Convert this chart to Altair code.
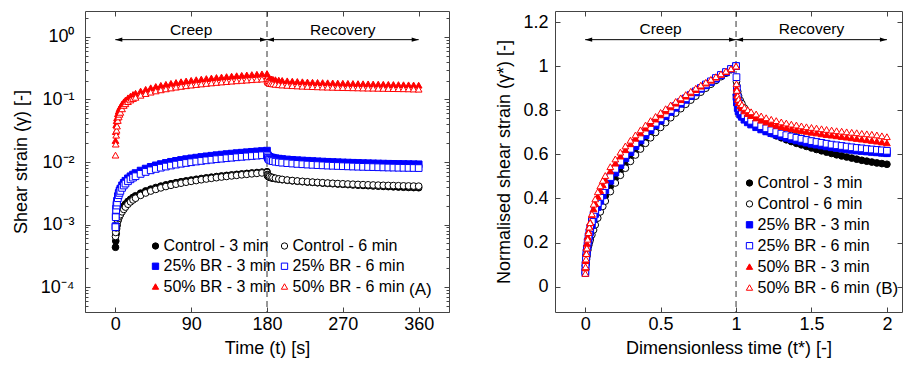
import altair as alt
import pandas as pd

FONT = "Liberation Sans"

SERIES = ["Control - 3 min", "Control - 6 min", "25% BR - 3 min",
          "25% BR - 6 min", "50% BR - 3 min", "50% BR - 6 min"]
SHAPES = ["circle", "circle", "square", "square", "triangle-up", "triangle-up"]
STROKES = ["#000000", "#000000", "#0000ff", "#0000ff", "#ff0000", "#ff0000"]
FILLS = ["#000000", "#ffffff", "#0000ff", "#ffffff", "#ff0000", "#ffffff"]
# legend order of panel A (two columns, filled column-wise)
ORDER_A = [0, 2, 4, 1, 3, 5]
ORDER_B = [0, 1, 2, 3, 4, 5]

# time grid (s)
creep_t = [0.2, 0.5, 1, 1.5, 2, 3, 4, 5, 6, 8, 10, 12, 15, 18, 21, 24, 30, 36, 42, 48,
           54, 60, 66, 72, 78, 84, 90, 96, 102, 108, 114, 120, 126, 132, 138, 144,
           150, 156, 162, 168, 174, 180]
recovery_t = [180.5, 181, 182, 183, 185, 187, 190, 194, 198, 204, 210, 216, 222, 228,
              234, 240, 246, 252, 258, 264, 270, 276, 282, 288, 294, 300, 306, 312,
              318, 324, 330, 336, 342, 348, 354, 360]
creep_duration = 180

# normalised strain (gamma / gamma at end of creep)
creep_ctrl3 = [0.062, 0.078, 0.102, 0.122, 0.138, 0.165, 0.187, 0.207, 0.224, 0.254, 0.280,
               0.304, 0.335, 0.363, 0.389, 0.412, 0.455, 0.493, 0.527, 0.559, 0.589, 0.617,
               0.643, 0.668, 0.692, 0.715, 0.737, 0.758, 0.779, 0.799, 0.818, 0.837, 0.855,
               0.873, 0.890, 0.907, 0.923, 0.939, 0.955, 0.970, 0.985, 1.000]
creep_ctrl6 = [0.095, 0.110, 0.130, 0.142, 0.152, 0.170, 0.185, 0.200, 0.212, 0.235, 0.257,
               0.280, 0.311, 0.339, 0.364, 0.388, 0.431, 0.470, 0.505, 0.537, 0.568, 0.597,
               0.624, 0.650, 0.675, 0.699, 0.722, 0.744, 0.766, 0.787, 0.807, 0.827, 0.846,
               0.864, 0.882, 0.900, 0.918, 0.935, 0.952, 0.968, 0.984, 1.000]
creep_br25_3 = [0.062, 0.090, 0.119, 0.140, 0.158, 0.187, 0.210, 0.230, 0.248, 0.279, 0.306,
                0.330, 0.361, 0.389, 0.414, 0.438, 0.480, 0.517, 0.551, 0.582, 0.610, 0.637,
                0.663, 0.687, 0.710, 0.732, 0.753, 0.773, 0.792, 0.811, 0.829, 0.847, 0.864,
                0.881, 0.897, 0.913, 0.928, 0.943, 0.958, 0.972, 0.986, 1.000]
creep_br25_6 = [0.070, 0.101, 0.132, 0.155, 0.173, 0.203, 0.227, 0.247, 0.266, 0.297, 0.324,
                0.348, 0.379, 0.407, 0.433, 0.456, 0.497, 0.534, 0.567, 0.597, 0.625, 0.651,
                0.676, 0.700, 0.722, 0.743, 0.763, 0.783, 0.801, 0.819, 0.837, 0.854, 0.870,
                0.886, 0.901, 0.917, 0.931, 0.946, 0.960, 0.973, 0.987, 1.000]
creep_br50_3 = [0.085, 0.118, 0.152, 0.176, 0.196, 0.227, 0.252, 0.274, 0.293, 0.326, 0.353,
                0.377, 0.409, 0.436, 0.462, 0.484, 0.525, 0.560, 0.592, 0.621, 0.648, 0.673,
                0.697, 0.719, 0.740, 0.760, 0.779, 0.797, 0.815, 0.832, 0.848, 0.864, 0.879,
                0.894, 0.909, 0.923, 0.936, 0.950, 0.963, 0.975, 0.988, 1.000]
creep_br50_6 = [0.060, 0.090, 0.125, 0.150, 0.175, 0.215, 0.245, 0.270, 0.290, 0.330, 0.374,
                0.398, 0.430, 0.457, 0.482, 0.504, 0.544, 0.579, 0.610, 0.638, 0.664, 0.688,
                0.711, 0.733, 0.753, 0.772, 0.790, 0.807, 0.824, 0.840, 0.856, 0.871, 0.886,
                0.900, 0.914, 0.927, 0.940, 0.952, 0.965, 0.977, 0.988, 1.000]

rec_ctrl3 = [0.870, 0.850, 0.830, 0.815, 0.800, 0.788, 0.772, 0.757, 0.745, 0.729, 0.716,
             0.704, 0.694, 0.684, 0.675, 0.666, 0.658, 0.650, 0.643, 0.636, 0.629, 0.622,
             0.616, 0.610, 0.604, 0.598, 0.593, 0.588, 0.583, 0.578, 0.573, 0.569, 0.565,
             0.561, 0.558, 0.555]
rec_ctrl6 = [0.930, 0.910, 0.885, 0.865, 0.845, 0.830, 0.810, 0.790, 0.775, 0.758, 0.744,
             0.732, 0.721, 0.711, 0.702, 0.694, 0.686, 0.679, 0.672, 0.666, 0.660, 0.655,
             0.650, 0.645, 0.640, 0.636, 0.632, 0.628, 0.624, 0.621, 0.618, 0.615, 0.612,
             0.610, 0.607, 0.605]
rec_br25_3 = [0.860, 0.835, 0.810, 0.795, 0.780, 0.770, 0.757, 0.745, 0.735, 0.723, 0.713,
              0.704, 0.696, 0.689, 0.682, 0.675, 0.669, 0.663, 0.658, 0.653, 0.648, 0.644,
              0.640, 0.636, 0.632, 0.629, 0.626, 0.623, 0.620, 0.617, 0.615, 0.613, 0.611,
              0.609, 0.607, 0.605]
rec_br25_6 = [0.950, 0.900, 0.860, 0.835, 0.810, 0.795, 0.778, 0.763, 0.752, 0.739, 0.728,
              0.718, 0.709, 0.701, 0.694, 0.687, 0.681, 0.675, 0.670, 0.665, 0.660, 0.656,
              0.652, 0.648, 0.644, 0.641, 0.638, 0.635, 0.632, 0.629, 0.627, 0.624, 0.622,
              0.620, 0.618, 0.616]
rec_br50_3 = [0.900, 0.870, 0.850, 0.835, 0.820, 0.810, 0.797, 0.785, 0.776, 0.765, 0.755,
              0.747, 0.739, 0.732, 0.726, 0.721, 0.716, 0.712, 0.708, 0.704, 0.700, 0.697,
              0.693, 0.690, 0.687, 0.684, 0.681, 0.678, 0.675, 0.672, 0.669, 0.666, 0.663,
              0.660, 0.656, 0.652]
rec_br50_6 = [0.920, 0.890, 0.865, 0.850, 0.835, 0.825, 0.813, 0.802, 0.793, 0.783, 0.774,
              0.766, 0.759, 0.753, 0.747, 0.742, 0.737, 0.733, 0.729, 0.725, 0.722, 0.719,
              0.716, 0.713, 0.710, 0.707, 0.705, 0.702, 0.700, 0.698, 0.695, 0.693, 0.691,
              0.688, 0.684, 0.680]

# shear strain at the end of creep (panel A)
peak_strain = [7.0e-3, 6.8e-3, 0.0152, 0.0130, 0.26, 0.215]

creep_all = [creep_ctrl3, creep_ctrl6, creep_br25_3, creep_br25_6, creep_br50_3, creep_br50_6]
rec_all = [rec_ctrl3, rec_ctrl6, rec_br25_3, rec_br25_6, rec_br50_3, rec_br50_6]

rows = []
for name, cr, rc, pk in zip(SERIES, creep_all, rec_all, peak_strain):
    for t, v in zip(creep_t + recovery_t, cr + rc):
        rows.append({"series": name, "t": t, "tstar": t / creep_duration,
                     "norm": v, "gamma": v * pk})
df = pd.DataFrame(rows)

# annotations
phase_names = ["Creep", "Recovery"]
phase_start_a = [0, 180]
phase_end_a = [180, 360]
phase_start_b = [0, 1]
phase_end_b = [1, 2]

# axis ticks
xticks_a = [0, 90, 180, 270, 360]
decades = [0.00001, 0.0001, 0.001, 0.01, 0.1, 1]
decade_labels = {1: "10⁰", 0.1: "10⁻¹", 0.01: "10⁻²", 0.001: "10⁻³", 0.0001: "10⁻⁴"}
minor_mult = [2, 3, 4, 5, 6, 7, 8, 9]
logticks = sorted(decades + [m * d for d in decades for m in minor_mult if 4e-5 <= m * d <= 2.6])
xticks_b = [0, 0.5, 1, 1.5, 2]
yticks_b = [0, 0.2, 0.4, 0.6, 0.8, 1.0, 1.2]

XDOM_A = [-36, 396]
YDOM_A = [4e-5, 2.6]
XDOM_B = [-0.2, 2.1]
YDOM_B = [-0.115, 1.25]

label_expr = " : ".join(
    [f"datum.value == {k} ? '{v}'" for k, v in decade_labels.items()]) + " : ''"
minor_test = "indexof([1, 0.1, 0.01, 0.001, 0.0001, 0.00001], datum.value) < 0"
tick_dash = {"condition": {"test": minor_test, "value": [3, 2]}, "value": [5, 0]}
tick_dash_off = {"condition": {"test": minor_test, "value": 3}, "value": 0}

TICK = dict(tickSize=5, offset=-5, domain=False, grid=False, tickColor="#444",
            labelFont=FONT, labelFontSize=18, labelColor="#000", titleFont=FONT,
            titleFontSize=18, titleFontWeight="normal", titleColor="#000",
            labelOverlap=False, labelFlush=False, labelBound=False)


def legend(x, y, cols, rowpad):
    return alt.Legend(title=None, orient="none", legendX=x, legendY=y, columns=cols,
                      symbolSize=40, symbolStrokeWidth=1, labelFont=FONT,
                      labelFontSize=16, labelColor="#000", rowPadding=rowpad,
                      columnPadding=0, labelOffset=0, padding=0)


def panel(xf, yf, xscale, yscale, xaxis, yaxis, xaxis_m, yaxis_m, leg, order,
          pstart, pend, arrow_y, text_y, divider, tag, tag_x, tag_y, width):
    dom = [SERIES[i] for i in order]
    points = alt.Chart(df).mark_point(filled=True, size=45, strokeWidth=1, opacity=1).encode(
        x=alt.X(f"{xf}:Q", scale=xscale, axis=xaxis),
        y=alt.Y(f"{yf}:Q", scale=yscale, axis=yaxis),
        shape=alt.Shape("series:N", scale=alt.Scale(
            domain=dom, range=[SHAPES[i] for i in order]), legend=leg),
        stroke=alt.Stroke("series:N", scale=alt.Scale(
            domain=dom, range=[STROKES[i] for i in order]), legend=leg),
        fill=alt.Fill("series:N", scale=alt.Scale(
            domain=dom, range=[FILLS[i] for i in order]), legend=leg),
    )
    adf = pd.DataFrame({"name": phase_names, "x1": pstart, "x2": pend,
                        "y": [arrow_y, arrow_y], "ty": [text_y, text_y],
                        "mid": [(a + b) / 2 for a, b in zip(pstart, pend)]})
    arrows = alt.Chart(adf).mark_rule(color="#000", strokeWidth=1).encode(
        x=alt.X("x1:Q", scale=xscale, axis=xaxis_m),
        x2="x2:Q",
        y=alt.Y("y:Q", scale=yscale, axis=yaxis_m),
    )
    left_heads = alt.Chart(pd.DataFrame({"x": pstart, "y": [arrow_y] * 2})).mark_point(
        filled=True, size=49, opacity=1, color="#000", shape="M0,0L2,-0.6L2,0.6Z").encode(
        x=alt.X("x:Q", scale=xscale, axis=None),
        y=alt.Y("y:Q", scale=yscale, axis=None))
    right_heads = alt.Chart(pd.DataFrame({"x": pend, "y": [arrow_y] * 2})).mark_point(
        filled=True, size=49, opacity=1, color="#000", shape="M0,0L-2,-0.6L-2,0.6Z").encode(
        x=alt.X("x:Q", scale=xscale, axis=None),
        y=alt.Y("y:Q", scale=yscale, axis=None))
    texts = alt.Chart(adf).mark_text(font=FONT, fontSize=15.5, color="#000",
                                     baseline="middle").encode(
        x=alt.X("mid:Q", scale=xscale, axis=None),
        y=alt.Y("ty:Q", scale=yscale, axis=None),
        text="name:N",
    )
    vline = alt.Chart(pd.DataFrame({"x": [divider]})).mark_rule(
        color="#333", strokeWidth=1, strokeDash=[6, 4]).encode(
        x=alt.X("x:Q", scale=xscale, axis=None))
    tagc = alt.Chart(pd.DataFrame({"x": [tag_x], "y": [tag_y], "t": [tag]})).mark_text(
        font=FONT, fontSize=17, color="#000", baseline="middle").encode(
        x=alt.X("x:Q", scale=xscale, axis=None),
        y=alt.Y("y:Q", scale=yscale, axis=None),
        text="t:N")
    return alt.layer(vline, arrows, left_heads, right_heads, texts, points, tagc).resolve_axis(
        x="independent", y="independent").properties(width=width, height=301)


# Panel A
xs_a = alt.Scale(domain=XDOM_A, nice=False, zero=False)
ys_a = alt.Scale(type="log", domain=YDOM_A, nice=False)
xa_a = alt.Axis(orient="bottom", values=xticks_a, title="Time (t) [s]",
                labelPadding=3, titlePadding=6, **TICK)
ya_a = alt.Axis(orient="left", values=logticks, labelExpr=label_expr,
                title="Shear strain (γ) [-]", labelPadding=11, titlePadding=10,
                tickDash=tick_dash, tickDashOffset=tick_dash_off, **TICK)
xm_a = alt.Axis(orient="top", values=xticks_a, labels=False, title=None, **TICK)
ym_a = alt.Axis(orient="right", values=logticks, labels=False, title=None,
                tickDash=tick_dash, tickDashOffset=tick_dash_off, **TICK)
chart_a = panel("t", "gamma", xs_a, ys_a, xa_a, ya_a, xm_a, ym_a, legend(62.5, 227, 2, 4.25),
                ORDER_A, phase_start_a, phase_end_a, 0.905, 1.31, 180, "(A)", 362, 9e-5, 364)

# Panel B
xs_b = alt.Scale(domain=XDOM_B, nice=False, zero=False)
ys_b = alt.Scale(domain=YDOM_B, nice=False, zero=False)
xa_b = alt.Axis(orient="bottom", values=xticks_b, format="~g",
                title="Dimensionless time (t*) [-]", labelPadding=3, titlePadding=6, **TICK)
ya_b = alt.Axis(orient="left", values=yticks_b, format="~g",
                title="Normalised shear strain (γ*) [-]", labelPadding=7,
                titlePadding=9, **TICK)
xm_b = alt.Axis(orient="top", values=xticks_b, labels=False, title=None, **TICK)
ym_b = alt.Axis(orient="right", values=yticks_b, labels=False, title=None, **TICK)
chart_b = panel("tstar", "norm", xs_b, ys_b, xa_b, ya_b, xm_b, ym_b, legend(186.5, 164, 1, 4.9),
                ORDER_B, phase_start_b, phase_end_b, 1.12, 1.17, 1, "(B)", 2.0, -0.009, 347)

chart = alt.hconcat(chart_a, chart_b, spacing=45).resolve_scale(
    shape="independent", stroke="independent", fill="independent").resolve_legend(
    shape="independent", stroke="independent", fill="independent").properties(
    padding={"left": 3, "top": 0, "right": 0, "bottom": 0}).configure_view(
    stroke="#444", strokeWidth=1)

chart.save("out.html", embed_options={"renderer": "svg", "actions": False})
